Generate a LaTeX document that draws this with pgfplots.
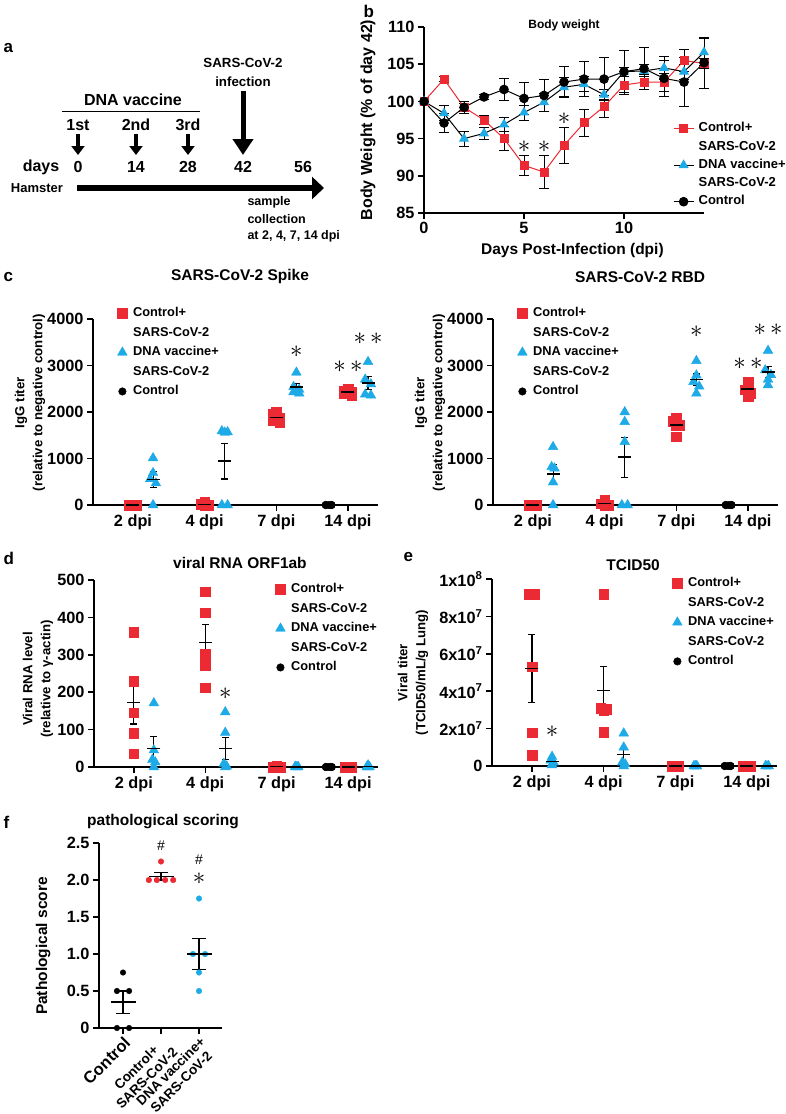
\documentclass[border=0pt]{standalone}
\usepackage{fontspec}
\setmainfont{Liberation Sans}
\usepackage{pgfplots}
\pgfplotsset{compat=1.18}
\usetikzlibrary{arrows.meta}
\definecolor{gpred}{HTML}{EC2A33}
\definecolor{gpblue}{HTML}{1DAAE6}
\newcommand{\fs}[2]{\fontsize{#1}{#2}\selectfont\bfseries}

\pgfplotsset{
  gp/.style={scale only axis, clip=false, enlargelimits=false,
    axis lines=left, axis line style={-, line width=1.5pt},
    tick align=outside, major tick length=6pt,
    tick style={line width=1.5pt, black},
    scaled ticks=false,
    every axis title shift=0pt,
    /pgf/number format/assume math mode=true,
    tick label style={font=\fs{16.3}{18}},
    label style={font=\fs{13.2}{18}},
    title style={font=\fs{15.5}{18}},
    legend style={draw=none, fill=none, inner sep=0pt, anchor=north west,
      legend cell align=left, font=\fs{12.8}{15}, row sep=7pt,
      nodes={inner sep=0.5pt, text height=9pt, text depth=2.5pt}},
    legend image code/.code={\path (-6pt,0pt) (10pt,0pt); \draw[##1] plot coordinates {(0pt,0pt)};},
  },
  cat/.style={gp, width=285pt, height=186pt, xmin=-0.558, xmax=3.419,
    xtick={0,1,2,3}, xticklabels={2 dpi,4 dpi,7 dpi,14 dpi}, ymin=0},
  mred/.style={only marks, mark=square*, mark size=4.8pt, color=gpred},
  mblue/.style={only marks, mark=triangle*, mark size=5.6pt, color=gpblue},
  mblack/.style={only marks, mark=*, mark size=3.8pt, color=black},
  mn/.style={only marks, black, mark=-, mark size=6.5pt, mark options={line width=1.3pt}, forget plot,
    error bars/y dir=both, error bars/y explicit,
    error bars/error bar style={line width=1.1pt, black},
    error bars/error mark options={rotate=90, black, mark size=3.5pt, line width=1.1pt}},
  eb/.style={forget plot, error bars/y dir=both, error bars/y explicit,
    error bars/error bar style={black, line width=0.9pt},
    error bars/error mark options={rotate=90, black, mark size=5pt, line width=0.9pt}},
}
\newcommand{\sig}[1]{\fontsize{23}{23}\selectfont$#1$}

\begin{document}
\begin{tikzpicture}
\path[use as bounding box] (0,0) rectangle (785pt,-1114pt);

% panel letters
\node[anchor=west, font=\fs{17}{20}] at (0pt,-48pt) {a};
\node[anchor=west, font=\fs{17}{20}] at (360pt,-11pt) {b};
\node[anchor=west, font=\fs{17}{20}] at (0pt,-277pt) {c};
\node[anchor=west, font=\fs{17}{20}] at (0pt,-558pt) {d};
\node[anchor=west, font=\fs{17}{20}] at (400pt,-557pt) {e};
\node[anchor=west, font=\fs{17}{20}] at (0pt,-822pt) {f};

% panel a: timeline
\node[font=\fs{13.3}{16}] at (243pt,-63pt) {SARS-CoV-2};
\node[font=\fs{13.3}{16}] at (243pt,-82pt) {infection};
\draw[line width=5pt, -{Triangle[length=16pt,width=20pt]}] (243pt,-91pt) -- (243pt,-155pt);
\node[font=\fs{16}{18}] at (133pt,-100pt) {DNA vaccine};
\draw[line width=0.8pt] (62pt,-111pt) -- (200pt,-111pt);
\node[font=\fs{16}{18}] at (78pt,-125pt) {1st};
\node[font=\fs{16}{18}] at (136pt,-125pt) {2nd};
\node[font=\fs{16}{18}] at (188pt,-125pt) {3rd};
\draw[line width=3.5pt, -{Triangle[length=9pt,width=13pt]}] (78pt,-134pt) -- (78pt,-155pt);
\draw[line width=3.5pt, -{Triangle[length=9pt,width=13pt]}] (136pt,-134pt) -- (136pt,-155pt);
\draw[line width=3.5pt, -{Triangle[length=9pt,width=13pt]}] (188pt,-134pt) -- (188pt,-155pt);
\node[font=\fs{16}{18}] at (41pt,-167pt) {days};
\node[font=\fs{16}{18}] at (78pt,-167pt) {0};
\node[font=\fs{16}{18}] at (136pt,-167pt) {14};
\node[font=\fs{16}{18}] at (188pt,-167pt) {28};
\node[font=\fs{16}{18}] at (243pt,-167pt) {42};
\node[font=\fs{16}{18}] at (303pt,-167pt) {56};
\node[font=\fs{13}{15}] at (37pt,-188pt) {Hamster};
\draw[line width=6pt, -{Triangle[length=12pt,width=22pt]}] (77pt,-188pt) -- (324pt,-188pt);
\node[anchor=west, font=\fs{12.5}{15}] at (244pt,-202pt) {sample};
\node[anchor=west, font=\fs{12.5}{15}] at (244pt,-219pt) {collection};
\node[anchor=west, font=\fs{12.5}{15}] at (244pt,-236pt) {at 2, 4, 7, 14 dpi};

% panel b: body weight
\begin{axis}[gp, at={(424pt,-213pt)}, anchor=south west, width=280pt, height=186pt,
  xmin=0, xmax=14, ymin=85, ymax=110, xtick={0,5,10}, ytick={85,90,...,110},
  title={Body weight}, title style={font=\fs{12}{14}, at={(axis description cs:0.5,1.01)}, anchor=center},
  xlabel={Days Post-Infection (dpi)}, xlabel style={font=\fs{15.5}{18}, at={(axis description cs:0.53,-0.2)}, anchor=center},
  ylabel={Body Weight (\% of day 42)}, ylabel style={font=\fs{16}{18}, at={(axis description cs:-0.2,0.5)}, anchor=center},
  legend style={at={(axis description cs:0.889,0.489)}, font=\fs{13}{15}, row sep=5.8pt},
  legend image code/.code={\draw[mark repeat=2,mark phase=2,#1] plot coordinates {(0pt,0pt)(10pt,0pt)(20pt,0pt)}; \path (0pt,0pt) (24pt,0pt);}]
\addplot[gpred, line width=1pt, mark=square*, mark size=4pt, eb] coordinates {
  (0,100) +- (0,0) (1,103.0) +- (0,0.3) (2,99.2) +- (0,0.5) (3,97.5) +- (0,0.6)
  (4,95.0) +- (0,1.6) (5,91.4) +- (0,1.3) (6,90.5) +- (0,2.2) (7,94.1) +- (0,2.4)
  (8,97.1) +- (0,1.85) (9,99.3) +- (0,1.5) (10,102.2) +- (0,1.2) (11,102.6) +- (0,1.0)
  (12,102.6) +- (0,1.2) (13,105.5) +- (0,1.5) (14,105.1) +- (0,0.7)};
\addplot[black, line width=1pt, mark=triangle*, mark size=4.8pt, mark options={gpblue}, eb] coordinates {
  (0,100) +- (0,0) (1,98.4) +- (0,1.0) (2,95.0) +- (0,1.0) (3,95.7) +- (0,0.8)
  (4,96.9) +- (0,1.0) (5,98.5) +- (0,1.0) (6,99.9) +- (0,1.2) (7,101.9) +- (0,1.3)
  (8,102.3) +- (0,1.0) (9,100.9) +- (0,0.7) (10,104.0) +- (0,0.6) (11,104.1) +- (0,0.8)
  (12,104.5) +- (0,1.5) (13,104.0) +- (0,1.0) (14,106.6) +- (0,1.8)};
\addplot[black, line width=1pt, mark=*, mark size=4.3pt, eb] coordinates {
  (0,100) +- (0,0) (1,97.1) +- (0,1.3) (2,99.2) +- (0,0.8) (3,100.6) +- (0,0.4)
  (4,101.6) +- (0,1.5) (5,100.4) +- (0,2.1) (6,100.8) +- (0,2.1) (7,102.6) +- (0,2.1)
  (8,103.0) +- (0,2.4) (9,103.0) +- (0,2.9) (10,104.0) +- (0,2.8) (11,104.4) +- (0,2.8)
  (12,103.1) +- (0,2.4) (13,102.6) +- (0,3.3) (14,105.2) +- (0,3.4)};
\addlegendimage{gpred, line width=1pt, mark=square*, mark size=4pt}
\addlegendentry{Control+}
\addlegendimage{empty legend}
\addlegendentry{SARS-CoV-2}
\addlegendimage{black, line width=1pt, mark=triangle*, mark size=4.8pt, mark options={gpblue}}
\addlegendentry{DNA vaccine+}
\addlegendimage{empty legend}
\addlegendentry{SARS-CoV-2}
\addlegendimage{black, line width=1pt, mark=*, mark size=4.3pt}
\addlegendentry{Control}
\node at (axis cs:5,93.9) {\sig{\ast}};
\node at (axis cs:6,93.9) {\sig{\ast}};
\node at (axis cs:7,97.7) {\sig{\ast}};
\end{axis}

% panel c: spike
\begin{axis}[cat, at={(93pt,-505pt)}, anchor=south west, ymax=4000,
  ytick={0,1000,2000,3000,4000}, yticklabels={0,1000,2000,3000,4000},
  title={SARS-CoV-2 Spike}, title style={at={(axis description cs:0.516,1.226)}, anchor=center},
  ylabel={IgG titer\\(relative to negative control)},
  ylabel style={align=center, at={(axis description cs:-0.221,0.55)}, anchor=center},
  legend style={at={(axis description cs:0.0807,1.0645)}}]
\addplot[mred, forget plot] coordinates {(-0.05,0) (0.05,0) (0,0) (-0.05,0) (0.05,0)
  (1,60) (0.95,20) (1.05,0) (1,0) (1,0)
  (2,2000) (1.95,1950) (2.05,1880) (1.95,1820) (2.05,1770)
  (3,2500) (2.95,2460) (3.05,2420) (2.95,2400) (3.05,2360)};
\addplot[mblue, forget plot] coordinates {(0.28,1010) (0.28,690) (0.24,560) (0.32,470) (0.28,0)
  (1.24,1590) (1.32,1570) (1.28,1560) (1.24,0) (1.32,0)
  (2.28,2850) (2.24,2540) (2.32,2480) (2.24,2430) (2.32,2400)
  (3.28,3080) (3.24,2700) (3.32,2600) (3.24,2380) (3.32,2360)};
\addplot[mblack, forget plot] coordinates {(2.69,0) (2.77,0) (2.735,0) (2.69,0) (2.77,0)};
\addplot[mn] coordinates {(0,0) +- (0,0) (0.28,546) +- (0,170) (1,16) +- (0,12) (1.28,944) +- (0,385)
  (2,1884) +- (0,42) (2.28,2540) +- (0,81) (2.735,0) +- (0,0) (3,2428) +- (0,24) (3.28,2624) +- (0,135)};
\addlegendimage{mred}\addlegendentry{Control+}
\addlegendimage{empty legend}\addlegendentry{SARS-CoV-2}
\addlegendimage{mblue}\addlegendentry{DNA vaccine+}
\addlegendimage{empty legend}\addlegendentry{SARS-CoV-2}
\addlegendimage{mblack}\addlegendentry{Control}
\node at (axis cs:2.28,3304) {\sig{\ast}};
\node at (axis cs:3,2982) {\sig{{\ast}\,{\ast}}};
\node at (axis cs:3.28,3577) {\sig{{\ast}\,{\ast}}};
\end{axis}

% panel c: RBD
\begin{axis}[cat, at={(493pt,-505pt)}, anchor=south west, ymax=4000,
  ytick={0,1000,2000,3000,4000}, yticklabels={0,1000,2000,3000,4000},
  title={SARS-CoV-2 RBD}, title style={at={(axis description cs:0.516,1.226)}, anchor=center},
  ylabel={IgG titer\\(relative to negative control)},
  ylabel style={align=center, at={(axis description cs:-0.221,0.55)}, anchor=center},
  legend style={at={(axis description cs:0.0807,1.0645)}}]
\addplot[mred, forget plot] coordinates {(-0.05,0) (0.05,0) (0,0) (-0.05,0) (0.05,0)
  (1,110) (0.95,30) (1.05,0) (1,0) (1,0)
  (2,1880) (1.96,1800) (2.04,1720) (2,1720) (2,1470)
  (3,2650) (3,2600) (2.96,2480) (3.04,2400) (3,2330)};
\addplot[mblue, forget plot] coordinates {(0.28,1250) (0.26,820) (0.30,790) (0.28,490) (0.28,0)
  (1.28,2000) (1.28,1790) (1.28,1360) (1.24,0) (1.32,0)
  (2.28,3100) (2.28,2790) (2.24,2650) (2.32,2550) (2.28,2400)
  (3.28,3320) (3.24,2900) (3.32,2800) (3.28,2700) (3.28,2580)};
\addplot[mblack, forget plot] coordinates {(2.69,0) (2.77,0) (2.735,0) (2.69,0) (2.77,0)};
\addplot[mn] coordinates {(0,0) +- (0,0) (0.28,670) +- (0,207) (1,28) +- (0,21) (1.28,1030) +- (0,430)
  (2,1718) +- (0,69) (2.28,2698) +- (0,120) (2.735,0) +- (0,0) (3,2492) +- (0,60) (3.28,2860) +- (0,125)};
\addlegendimage{mred}\addlegendentry{Control+}
\addlegendimage{empty legend}\addlegendentry{SARS-CoV-2}
\addlegendimage{mblue}\addlegendentry{DNA vaccine+}
\addlegendimage{empty legend}\addlegendentry{SARS-CoV-2}
\addlegendimage{mblack}\addlegendentry{Control}
\node at (axis cs:2.28,3721) {\sig{\ast}};
\node at (axis cs:3,3029) {\sig{{\ast}\,{\ast}}};
\node at (axis cs:3.28,3771) {\sig{{\ast}\,{\ast}}};
\end{axis}

% panel d: viral RNA
\begin{axis}[cat, at={(94pt,-767pt)}, anchor=south west, width=284pt, height=187pt, ymax=500,
  ytick={0,100,200,300,400,500},
  title={viral RNA ORF1ab}, title style={at={(axis description cs:0.514,1.09)}, anchor=center},
  ylabel={Viral RNA level\\(relative to γ-actin)},
  ylabel style={align=center, at={(axis description cs:-0.197,0.47)}, anchor=center},
  legend style={at={(axis description cs:0.634,0.984)}}]
\addplot[mred, forget plot] coordinates {(0,360) (0,229) (0,145) (0,91) (0,36)
  (1,469) (1,413) (1,301) (1,272) (1,212)
  (1.95,0) (2.05,0) (2,0) (2,2) (2,1)
  (2.95,0) (3.05,0) (3,0) (2.95,1) (3.05,1)};
\addplot[mblue, forget plot] coordinates {(0.28,171) (0.28,45) (0.26,20) (0.30,13) (0.28,0)
  (1.28,147) (1.28,92) (1.26,9) (1.30,2) (1.28,0)
  (2.26,0) (2.30,0) (2.28,0) (2.26,1) (2.30,1)
  (3.28,5) (3.28,2) (3.26,0) (3.30,0) (3.28,0)};
\addplot[mblack, forget plot] coordinates {(2.69,0) (2.77,0) (2.735,0) (2.69,0) (2.77,0)};
\addplot[mn] coordinates {(0,172) +- (0,57) (0.28,50) +- (0,31) (1,333) +- (0,47) (1.28,50) +- (0,30)
  (2,0.6) +- (0,0.4) (2.28,0.4) +- (0,0.3) (2.735,0) +- (0,0) (3,0.4) +- (0,0.3) (3.28,1.4) +- (0,1)};
\addlegendimage{mred}\addlegendentry{Control+}
\addlegendimage{empty legend}\addlegendentry{SARS-CoV-2}
\addlegendimage{mblue}\addlegendentry{DNA vaccine+}
\addlegendimage{empty legend}\addlegendentry{SARS-CoV-2}
\addlegendimage{mblack}\addlegendentry{Control}
\node at (axis cs:1.28,196) {\sig{\ast}};
\end{axis}

% panel e: TCID50
\begin{axis}[cat, at={(492pt,-766pt)}, anchor=south west, height=187pt, ymax=1e8,
  ytick={0,2e7,4e7,6e7,8e7,1e8},
  yticklabels={0,2x10\textsuperscript{7},4x10\textsuperscript{7},6x10\textsuperscript{7},8x10\textsuperscript{7},1x10\textsuperscript{8}},
  title={TCID50}, title style={at={(axis description cs:0.495,1.075)}, anchor=center},
  ylabel={Viral titer\\(TCID50/mL/g Lung)},
  ylabel style={align=center, at={(axis description cs:-0.277,0.5)}, anchor=center},
  legend style={at={(axis description cs:0.628,1.011)}}]
\addplot[mred, forget plot] coordinates {(-0.04,9.2e7) (0.04,9.2e7) (0,5.32e7) (0,1.79e7) (0,5.9e6)
  (1,9.2e7) (0.96,3.1e7) (1.04,3.05e7) (1,3.0e7) (1,1.8e7)
  (1.95,0) (2.05,0) (2,0) (1.95,0) (2.05,0)
  (2.95,0) (3.05,0) (3,0) (2.95,0) (3.05,0)};
\addplot[mblue, forget plot] coordinates {(0.28,5e6) (0.26,3e6) (0.30,2e6) (0.28,1e6) (0.28,5e5)
  (1.28,1.75e7) (1.28,1.0e7) (1.26,2e6) (1.30,1e6) (1.28,0)
  (2.26,0) (2.30,0) (2.28,0) (2.26,0) (2.30,0)
  (3.26,0) (3.30,0) (3.28,0) (3.26,0) (3.30,0)};
\addplot[mblack, forget plot] coordinates {(2.69,0) (2.77,0) (2.735,0) (2.69,0) (2.77,0)};
\addplot[mn] coordinates {(0,5.22e7) +- (0,1.8e7) (0.28,2.3e6) +- (0,8e5) (1,4.03e7) +- (0,1.31e7)
  (1.28,6.1e6) +- (0,3.5e6) (2,0) +- (0,0) (2.28,0) +- (0,0) (2.735,0) +- (0,0) (3,0) +- (0,0) (3.28,0) +- (0,0)};
\addlegendimage{mred}\addlegendentry{Control+}
\addlegendimage{empty legend}\addlegendentry{SARS-CoV-2}
\addlegendimage{mblue}\addlegendentry{DNA vaccine+}
\addlegendimage{empty legend}\addlegendentry{SARS-CoV-2}
\addlegendimage{mblack}\addlegendentry{Control}
\node at (axis cs:0.28,1.84e7) {\sig{\ast}};
\end{axis}

% panel f: pathological scoring
\begin{axis}[gp, at={(99pt,-1028pt)}, anchor=south west, width=123pt, height=185pt,
  xmin=-0.632, xmax=2.605, ymin=0, ymax=2.5,
  ytick={0,0.5,1,1.5,2,2.5}, yticklabels={0,0.5,1.0,1.5,2.0,2.5},
  xtick={0,1,2},
  xticklabels={{\fs{16.5}{18}Control},{Control+\\SARS-CoV-2},{DNA vaccine+\\SARS-CoV-2}},
  xticklabel style={font=\fs{13.5}{15}, rotate=45, anchor=north east, align=center, inner sep=1pt},
  title={pathological scoring}, title style={at={(axis description cs:0.52,1.114)}, anchor=center},
  ylabel={Pathological score},
  ylabel style={font=\fs{15.5}{18}, at={(axis description cs:-0.455,0.443)}, anchor=center}]
\addplot[only marks, mark=*, mark size=2.8pt, black, forget plot] coordinates {
  (0,0.75) (-0.16,0.5) (0.16,0.5) (-0.16,0) (0.16,0)};
\addplot[only marks, mark=*, mark size=2.8pt, gpred, forget plot] coordinates {
  (1,2.25) (0.68,2) (0.89,2) (1.11,2) (1.32,2)};
\addplot[only marks, mark=*, mark size=2.8pt, gpblue, forget plot] coordinates {
  (2,1.75) (1.84,1.0) (2.16,1.0) (2,0.75) (2,0.5)};
\addplot[mn, mark size=12.5pt, error bars/error mark options={rotate=90, black, mark size=7pt, line width=1.1pt}] coordinates {
  (0,0.35) +- (0,0.15) (1,2.05) +- (0,0.05) (2,1.0) +- (0,0.21)};
\node[font=\fontsize{14}{14}\selectfont] at (axis cs:1,2.47) {\#};
\node[font=\fontsize{14}{14}\selectfont] at (axis cs:2,2.27) {\#};
\node at (axis cs:2,2.02) {\sig{\ast}};
\end{axis}
\end{tikzpicture}
\end{document}
